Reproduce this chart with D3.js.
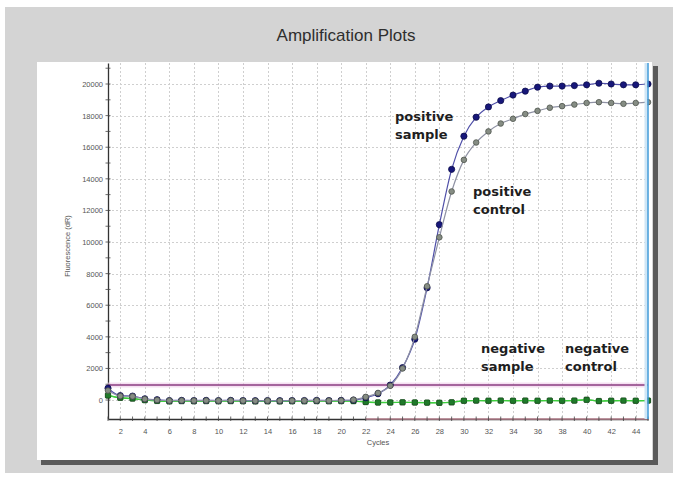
<!DOCTYPE html>
<html>
<head>
<meta charset="utf-8">
<script src="https://cdn.jsdelivr.net/npm/d3@7"></script>
<style>
  html, body { margin: 0; padding: 0; background: #ffffff; }
  svg { display: block; }
</style>
</head>
<body>
<svg id="chart" width="678" height="477"></svg>
<script>
// Cycle numbers and fluorescence (dR) readings per well
const cycles = d3.range(1, 46);

const positiveSample = [
  750, 280, 250, 80, 20, -30, -20, -30, -20, -30,
  -20, -30, -40, -30, -40, -30, -30, -20, -30, -20,
  0, 150, 400, 950, 2050, 3850, 7100, 11100, 14600, 16700,
  17900, 18550, 18950, 19300, 19550, 19800, 19870, 19870, 19900, 19950,
  20050, 20000, 19950, 19950, 20000
];

const positiveControl = [
  600, 250, 230, 60, 0, -40, -30, -40, -30, -40,
  -30, -40, -50, -40, -50, -40, -40, -30, -40, -30,
  20, 200, 450, 900, 2000, 4000, 7200, 10300, 13200, 15200,
  16300, 17000, 17500, 17800, 18100, 18300, 18500, 18600, 18700, 18800,
  18850, 18800, 18750, 18800, 18850
];

const negativeSample = [
  300, 150, 100, 0, -50, -80, -60, -70, -60, -70,
  -60, -70, -80, -70, -80, -70, -70, -60, -70, -60,
  -60, -120, -150, -150, -140, -150, -160, -170, -140, -40,
  -30, -40, -30, -40, -30, -40, -30, -40, -30, 10,
  -60, -40, -30, -40, -30
];

const negativeControl = [
  280, 140, 90, -10, -60, -90, -70, -80, -70, -80,
  -70, -80, -90, -80, -90, -80, -80, -70, -80, -70,
  -70, -130, -160, -160, -150, -160, -170, -180, -150, -50,
  -40, -50, -40, -50, -40, -50, -40, -50, -40, 20,
  -70, -50, -40, -50, -40
];

const xTicks = d3.range(2, 45, 2);
const yTicks = d3.range(0, 20001, 2000);
const threshold = 950;

const svg = d3.select("#chart");

// Outer grey frame and white plotting panel with drop shadow
svg.append("rect").attr("x", 5).attr("y", 7).attr("width", 668).attr("height", 466)
  .attr("fill", "#d4d4d4");
svg.append("rect").attr("x", 653).attr("y", 66).attr("width", 5).attr("height", 399)
  .attr("fill", "#5a5a5a");
svg.append("rect").attr("x", 41).attr("y", 460).attr("width", 617).attr("height", 5)
  .attr("fill", "#5a5a5a");
svg.append("rect").attr("x", 37).attr("y", 62).attr("width", 615).attr("height", 398)
  .attr("fill", "#ffffff");

svg.append("text")
  .attr("x", 346).attr("y", 41)
  .attr("text-anchor", "middle")
  .attr("font-family", "Liberation Sans, Arial, sans-serif")
  .attr("font-size", 17)
  .attr("fill", "#2e2e2e")
  .text("Amplification Plots");

const x = d3.scaleLinear().domain([1, 45]).range([108, 648]);
const y = d3.scaleLinear().domain([-1200, 21330]).range([419, 63]);

// Dashed grid
const grid = svg.append("g").attr("stroke", "#cfcfcf").attr("stroke-dasharray", "2,2").attr("stroke-width", 1);
grid.selectAll("line.h").data(yTicks).join("line")
  .attr("x1", x(1)).attr("x2", x(45))
  .attr("y1", d => Math.round(y(d)) + 0.5).attr("y2", d => Math.round(y(d)) + 0.5);
grid.selectAll("line.v").data(xTicks).join("line")
  .attr("x1", d => Math.round(x(d)) + 0.5).attr("x2", d => Math.round(x(d)) + 0.5)
  .attr("y1", y(21330)).attr("y2", y(-1200));

// Axes
const yAxis = d3.axisLeft(y).tickValues(yTicks).tickFormat(d3.format("d")).tickSize(0).tickPadding(5);
const gy = svg.append("g").attr("transform", `translate(${x(1)},0)`).call(yAxis);
gy.select(".domain").attr("stroke", "#333").attr("stroke-width", 1.3);
gy.selectAll("text").attr("font-family", "Liberation Sans, Arial, sans-serif")
  .attr("font-size", 7.5).attr("fill", "#555");

const xAxis = d3.axisBottom(x).tickValues(xTicks).tickSize(0).tickPadding(10);
const gx = svg.append("g").attr("transform", `translate(0,${y(-1200)})`).call(xAxis);
gx.select(".domain").attr("stroke", "#333").attr("stroke-width", 1.3);
gx.selectAll("text").attr("font-family", "Liberation Sans, Arial, sans-serif")
  .attr("font-size", 7.5).attr("fill", "#555");

// Later part of the baseline axis drawn in red
svg.append("line")
  .attr("x1", x(22)).attr("x2", x(45))
  .attr("y1", y(-1200)).attr("y2", y(-1200))
  .attr("stroke", "#b98390").attr("stroke-width", 1.3);

// Minor cross ticks on both axes
svg.append("g").selectAll("line").data(cycles).join("line")
  .attr("x1", d => x(d)).attr("x2", d => x(d))
  .attr("y1", y(-1200) - 2.5).attr("y2", y(-1200) + 2)
  .attr("stroke", "#444").attr("stroke-width", 0.8);
svg.append("g").selectAll("line").data(d3.range(0, 21001, 1000)).join("line")
  .attr("x1", x(1) - 2.5).attr("x2", x(1) + 2.5)
  .attr("y1", d => y(d)).attr("y2", d => y(d))
  .attr("stroke", "#444").attr("stroke-width", 0.8);

svg.append("text")
  .attr("x", 378).attr("y", 445)
  .attr("text-anchor", "middle")
  .attr("font-family", "Liberation Sans, Arial, sans-serif")
  .attr("font-size", 7.5).attr("fill", "#555")
  .text("Cycles");

svg.append("text")
  .attr("transform", "translate(70,246) rotate(-90)")
  .attr("text-anchor", "middle")
  .attr("font-family", "Liberation Sans, Arial, sans-serif")
  .attr("font-size", 7.5).attr("fill", "#555")
  .text("Fluorescence (dR)");

// Threshold line
svg.append("line")
  .attr("x1", x(1)).attr("x2", x(45))
  .attr("y1", y(threshold)).attr("y2", y(threshold))
  .attr("stroke", "#efcdea").attr("stroke-width", 5).attr("opacity", 0.6);
svg.append("line")
  .attr("x1", x(1)).attr("x2", x(45))
  .attr("y1", y(threshold)).attr("y2", y(threshold))
  .attr("stroke", "#8a3d80").attr("stroke-width", 1.4);

// Amplification curves
const line = d3.line()
  .x((d, i) => x(cycles[i]))
  .y(d => y(d))
  .curve(d3.curveMonotoneX);

const series = [
  { values: negativeControl, line: "#33c233", fill: "#2a5e2a", stroke: "#1d421d", shape: "square", r: 2.6 },
  { values: negativeSample, line: "#3fcf3f", fill: "#1f7a2a", stroke: "#164d1c", shape: "square", r: 2.6 },
  { values: positiveSample, line: "#4f4fa8", fill: "#17177a", stroke: "#0c0c4a", shape: "circle", r: 3.1 },
  { values: positiveControl, line: "#8f92a4", fill: "#868d84", stroke: "#4e544d", shape: "circle", r: 2.8 }
];

series.forEach(s => {
  const g = svg.append("g");
  g.append("path")
    .attr("d", line(s.values))
    .attr("fill", "none")
    .attr("stroke", s.line)
    .attr("stroke-width", 1.2);
  if (s.shape === "circle") {
    g.selectAll("circle").data(s.values).join("circle")
      .attr("cx", (d, i) => x(cycles[i]))
      .attr("cy", d => y(d))
      .attr("r", s.r)
      .attr("fill", s.fill)
      .attr("stroke", s.stroke)
      .attr("stroke-width", 0.8);
  } else {
    g.selectAll("rect").data(s.values).join("rect")
      .attr("x", (d, i) => x(cycles[i]) - s.r)
      .attr("y", d => y(d) - s.r)
      .attr("width", s.r * 2).attr("height", s.r * 2)
      .attr("rx", 0.8)
      .attr("fill", s.fill)
      .attr("stroke", s.stroke)
      .attr("stroke-width", 0.6);
  }
});

// End-of-run marker
svg.append("line")
  .attr("x1", x(45) - 2).attr("x2", x(45) - 2)
  .attr("y1", y(21330)).attr("y2", y(-1200))
  .attr("stroke", "#cfe6f6").attr("stroke-width", 3);
svg.append("line")
  .attr("x1", x(45)).attr("x2", x(45))
  .attr("y1", y(21330)).attr("y2", y(-1200))
  .attr("stroke", "#3f9ad8").attr("stroke-width", 1.5);

// Curve labels
const labels = [
  { lines: ["positive", "sample"], x: 395, y: 121 },
  { lines: ["positive", "control"], x: 473, y: 196 },
  { lines: ["negative", "sample"], x: 481, y: 353 },
  { lines: ["negative", "control"], x: 565, y: 353 }
];
labels.forEach(l => {
  const t = svg.append("text")
    .attr("font-family", "DejaVu Sans, Verdana, sans-serif")
    .attr("font-weight", "bold")
    .attr("font-size", 13)
    .attr("fill", "#1e1e1e");
  l.lines.forEach((s, i) => {
    t.append("tspan").attr("x", l.x).attr("y", l.y + i * 18).text(s);
  });
});
</script>
</body>
</html>
